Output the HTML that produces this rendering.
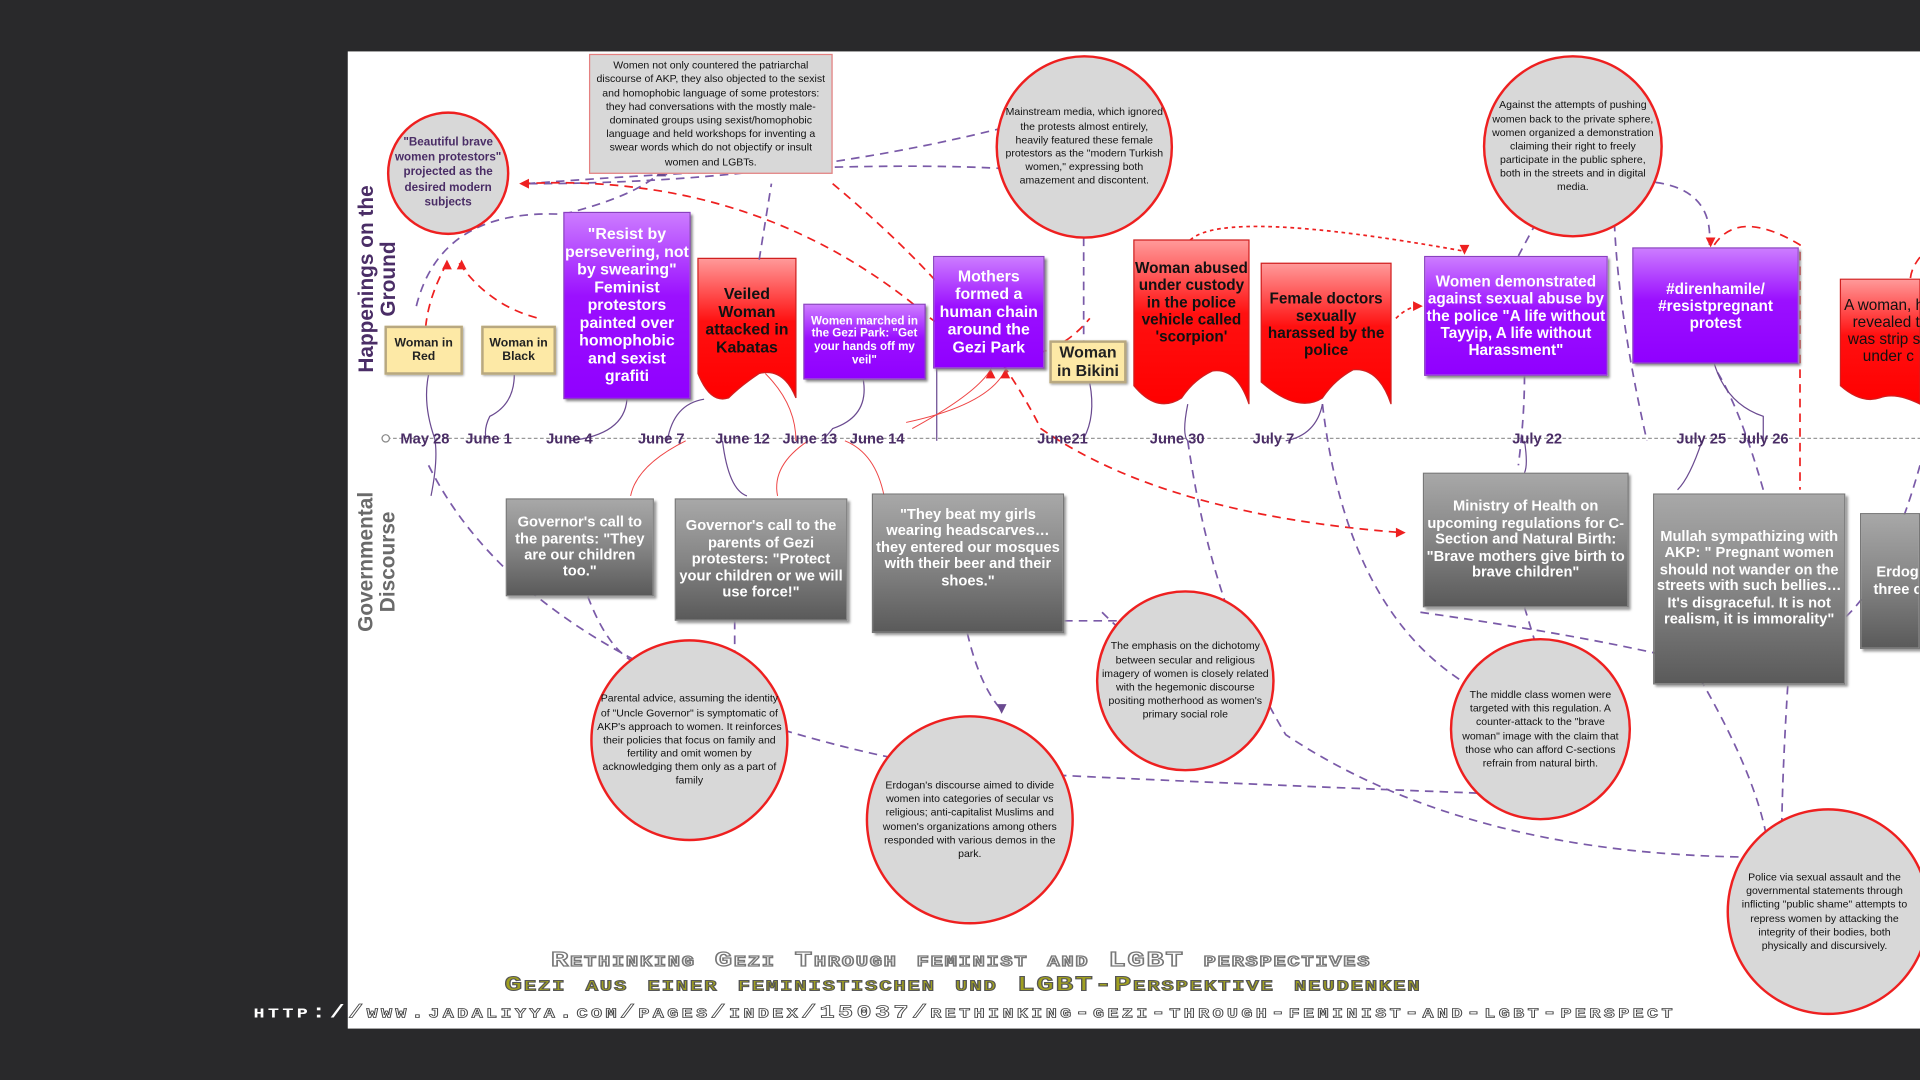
<!DOCTYPE html>
<html><head><meta charset="utf-8"><style>
html,body{margin:0;padding:0;width:1920px;height:1080px;overflow:hidden;background:#29292b}
#s{position:absolute;left:0;top:0;width:1568px;height:882px;transform:scale(1.22449);transform-origin:0 0;font-family:"Liberation Sans",sans-serif}
#panel{position:absolute;left:284px;top:42px;width:1284px;height:798px;background:#fff}
.a{position:absolute;display:flex;align-items:center;justify-content:center;text-align:center;box-sizing:border-box;font-weight:bold;line-height:1.12}
.y{background:#fde9a6;border:2px solid #b8a880;color:#222;font-size:10px;box-shadow:1px 1px 2px #999}
.p{background:linear-gradient(#cc7cff,#9b10ff 45%,#9000ff);color:#fff;font-size:12.5px;box-shadow:2px 2px 2px #888;border:1px solid #8a40c0}
.g{background:linear-gradient(#a8a8a8,#858585 50%,#5a5a5a);color:#fff;font-size:12px;box-shadow:2px 2px 2px #999;border:1px solid #777}
.r{color:#111;font-size:12.5px;align-items:flex-start;padding-top:6px}
.c{position:absolute;border:2px solid #ee2020;border-radius:50%;background:#d8d8d8;display:flex;align-items:center;justify-content:center;text-align:center;box-sizing:border-box;font-size:8.6px;line-height:1.3;color:#111}
.d{position:absolute;font-weight:bold;font-size:12px;color:#4a2d66;white-space:nowrap}
.t{position:absolute;font-family:"Liberation Mono",monospace;font-weight:bold;font-variant:small-caps;white-space:nowrap;letter-spacing:1px;transform-origin:0 0}
</style></head><body><div id="s">
<div id="panel"></div>
<svg width="1568" height="882" style="position:absolute;left:0;top:0">
<defs>
<linearGradient id="rg" x1="0" y1="0" x2="0" y2="1"><stop offset="0" stop-color="#ff9a9a"/><stop offset=".45" stop-color="#ff1010"/><stop offset="1" stop-color="#ff0000"/></linearGradient>
</defs>
<line x1="316" y1="358" x2="1568" y2="358" stroke="#999" stroke-dasharray="3,2" stroke-width="1"/>
<circle cx="315" cy="358" r="3" fill="#fff" stroke="#888"/>
<g fill="url(#rg)" stroke="#d02020" stroke-width="1">
<path d="M570 211H650V325Q640 300 620 305Q605 315 595 325Q580 330 570 305Z"/>
<path d="M926 196H1020V330Q1010 300 990 303Q975 310 965 325Q945 338 926 315Z"/>
<path d="M1030 215H1136V330Q1126 300 1105 302Q1090 310 1080 325Q1060 338 1030 312Z"/>
<path d="M1503 228H1568V330Q1548 320 1535 325Q1520 330 1503 315Z"/>
</g>
<g fill="none" stroke-width="1.4" stroke-dasharray="7,5">
<path d="M432 150Q640 150 825 103" stroke="#7a5aa8"/>
<path d="M430 150Q700 130 825 138" stroke="#7a5aa8"/>
<path d="M426 150Q620 140 760 260Q840 320 890 260" stroke="#ee2020"/>
<path d="M680 150Q800 250 850 350Q950 420 1145 435" stroke="#ee2020"/>
<path d="M365 215Q340 260 350 300" stroke="#ee2020"/>
<path d="M375 215Q400 250 440 260" stroke="#ee2020"/>
<path d="M340 250Q360 170 460 175Q520 160 540 140" stroke="#7a5aa8"/>
<path d="M620 212L630 150" stroke="#7a5aa8"/>
<path d="M885 170V280" stroke="#7a5aa8"/>
<path d="M972 196Q1000 170 1195 205" stroke="#ee2020" stroke-dasharray="3,3"/>
<path d="M1240 209Q1250 190 1265 163" stroke="#7a5aa8"/>
<path d="M1318 170Q1320 250 1345 360" stroke="#7a5aa8"/>
<path d="M1340 148Q1400 150 1396 200" stroke="#7a5aa8"/>
<path d="M1400 200Q1420 170 1470 200V400" stroke="#ee2020"/>
<path d="M1568 210Q1560 220 1560 230" stroke="#ee2020"/>
<path d="M1140 260Q1150 250 1160 250" stroke="#ee2020" stroke-dasharray="3,3"/>
<path d="M350 380Q400 480 530 545" stroke="#7a5aa8"/>
<path d="M480 487Q500 540 530 545" stroke="#7a5aa8"/>
<path d="M600 507V550" stroke="#7a5aa8"/>
<path d="M790 517Q800 560 818 580" stroke="#7a5aa8"/>
<path d="M869 507H945" stroke="#7a5aa8"/>
<path d="M900 500Q920 520 925 520" stroke="#7a5aa8"/>
<path d="M560 570Q700 620 800 630Q1000 640 1215 648" stroke="#7a5aa8"/>
<path d="M970 360Q990 500 1050 600Q1200 700 1440 700" stroke="#7a5aa8"/>
<path d="M1080 330Q1100 500 1200 560" stroke="#7a5aa8"/>
<path d="M1245 496L1260 545" stroke="#7a5aa8"/>
<path d="M1160 500Q1300 520 1380 540Q1440 640 1445 700" stroke="#7a5aa8"/>
<path d="M1460 560Q1455 640 1455 690" stroke="#7a5aa8"/>
<path d="M1568 380Q1540 480 1500 510" stroke="#7a5aa8"/>
<path d="M1245 307Q1245 340 1240 380" stroke="#7a5aa8"/>
<path d="M1440 400Q1420 330 1400 300" stroke="#7a5aa8"/>
</g>
<g fill="none" stroke="#6a4a90" stroke-width="1">
<path d="M350 306Q345 330 355 358Q358 375 352 405"/>
<path d="M420 306Q420 330 400 340Q395 350 397 358"/>
<path d="M512 326Q510 355 465 360"/>
<path d="M575 326Q550 330 545 360"/>
<path d="M590 360Q595 400 610 405"/>
<path d="M705 310Q710 340 680 350Q672 360 670 360"/>
<path d="M765 301V360"/>
<path d="M890 313Q895 340 885 358"/>
<path d="M970 330Q965 355 970 360"/>
<path d="M1080 330Q1075 355 1050 360"/>
<path d="M1245 360Q1248 380 1245 386"/>
<path d="M1400 297Q1410 330 1440 340V360"/>
<path d="M1390 360Q1380 390 1370 400"/>
</g>
<g fill="none" stroke="#ee4444" stroke-width="0.8">
<path d="M625 305Q650 330 650 360"/>
<path d="M745 350Q800 320 810 300"/>
<path d="M740 345Q810 330 822 300"/>
<path d="M560 360Q520 380 515 405"/>
<path d="M660 360Q630 380 635 405"/>
<path d="M690 360Q715 370 722 405"/>
</g>
<g fill="#6a4a90">
<path d="M530 545l-4-8h8z"/><path d="M598 555l-4-8h8z"/><path d="M818 583l-4-8h8z"/><path d="M1260 546l-4-8h8z"/><path d="M1445 704l-4-8h8z"/><path d="M1456 694l-4-8h8z"/>
<path d="M825 103l-8-4v8z"/><path d="M827 138l-8-4v8z"/><path d="M948 507l-8-4v8z"/><path d="M1218 648l-8-4v8z"/>
<path d="M883 168l-4 8h8z"/><path d="M1264 160l-4 8h8z"/><path d="M1317 168l-4 8h8z"/><path d="M540 136l-4 8h8z"/><path d="M1336 148l8-4v8z"/>
</g>
<g fill="#ee2020">
<path d="M424 150l8-4v8z"/><path d="M365 212l-4 8h8z"/><path d="M377 212l-4 8h8z"/><path d="M1148 435l-8-4v8z"/><path d="M1196 208l-4-8h8z"/><path d="M1397 202l-4-8h8z"/><path d="M1162 250l-8-4v8z"/><path d="M809 301l-4 8h8z"/><path d="M821 301l-4 8h8z"/><path d="M660 272l8-4v8z"/>
</g>
</svg>

<div class="c" style="left:316px;top:91px;width:100px;height:101px;font-weight:bold;font-size:9.5px;color:#4a2d66">"Beautiful brave women protestors" projected as the desired modern subjects</div>
<div class="a" style="left:481px;top:44px;width:199px;height:98px;background:#d8d8d8;border:1px solid #e58080;font-weight:normal;font-size:8.6px;color:#111;padding:2px 4px;line-height:1.3">Women not only countered the patriarchal discourse of AKP, they also objected to the sexist and homophobic language of some protestors: they had conversations with the mostly male-dominated groups using sexist/homophobic language and held workshops for inventing a swear words which do not objectify or insult women and LGBTs.</div>
<div class="c" style="left:813px;top:45px;width:145px;height:150px;padding:0 4px">Mainstream media, which ignored the protests almost entirely, heavily featured these female protestors as the "modern Turkish women," expressing both amazement and discontent.</div>
<div class="c" style="left:1211px;top:45px;width:147px;height:149px;padding:0 3px">Against the attempts of pushing women back to the private sphere, women organized a demonstration claiming their right to freely participate in the public sphere, both in the streets and in digital media.</div>

<div class="a" style="left:288px;top:140px;width:40px;height:176px"><div style="transform:rotate(-90deg);white-space:nowrap;font-size:17px;color:#4a2d66;line-height:1.05">Happenings on the<br>Ground</div></div>
<div class="a" style="left:288px;top:395px;width:40px;height:128px"><div style="transform:rotate(-90deg);white-space:nowrap;font-size:17px;color:#6a6a6a;line-height:1.05">Governmental<br>Discourse</div></div>

<div class="a y" style="left:314px;top:266px;width:64px;height:40px">Woman in Red</div>
<div class="a y" style="left:393px;top:266px;width:61px;height:40px">Woman in Black</div>
<div class="a p" style="left:460px;top:173px;width:104px;height:153px;font-size:13px">"Resist by persevering, not by swearing" Feminist protestors painted over homophobic and sexist grafiti</div>
<div class="a r" style="left:570px;top:211px;width:80px;height:90px;padding-top:22px;font-size:13px">Veiled Woman attacked in Kabatas</div>
<div class="a p" style="left:656px;top:248px;width:100px;height:62px;font-size:9.5px">Women marched in the Gezi Park: "Get your hands off my veil"</div>
<div class="a p" style="left:762px;top:209px;width:91px;height:92px;font-size:13px">Mothers formed a human chain around the Gezi Park</div>
<div class="a y" style="left:857px;top:278px;width:63px;height:35px;font-size:13px">Woman in Bikini</div>
<div class="a r" style="left:926px;top:196px;width:94px;height:110px;padding-top:16px">Woman abused under custody in the police vehicle called 'scorpion'</div>
<div class="a r" style="left:1030px;top:215px;width:106px;height:100px;padding-top:22px">Female doctors sexually harassed by the police</div>
<div class="a p" style="left:1163px;top:209px;width:150px;height:98px">Women demonstrated against sexual abuse by the police "A life without Tayyip, A life without Harassment"</div>
<div class="a p" style="left:1333px;top:202px;width:136px;height:95px;align-items:flex-start;padding-top:26px">#direnhamile/ #resistpregnant protest</div>
<div class="a r" style="left:1503px;top:228px;width:65px;height:80px;padding-top:14px;justify-content:flex-start;font-weight:normal;white-space:nowrap;overflow:hidden;padding-left:3px">A woman, h<br>&nbsp;revealed t<br>was strip s<br>&nbsp;&nbsp;under c</div>

<div class="d" style="left:327px;top:351px">May 28</div>
<div class="d" style="left:380px;top:351px">June 1</div>
<div class="d" style="left:446px;top:351px">June 4</div>
<div class="d" style="left:521px;top:351px">June 7</div>
<div class="d" style="left:584px;top:351px">June 12</div>
<div class="d" style="left:639px;top:351px">June 13</div>
<div class="d" style="left:694px;top:351px">June 14</div>
<div class="d" style="left:847px;top:351px">June21</div>
<div class="d" style="left:939px;top:351px">June 30</div>
<div class="d" style="left:1023px;top:351px">July 7</div>
<div class="d" style="left:1235px;top:351px">July 22</div>
<div class="d" style="left:1369px;top:351px">July 25</div>
<div class="d" style="left:1420px;top:351px">July 26</div>

<div class="a g" style="left:413px;top:407px;width:121px;height:80px">Governor's call to the parents: "They are our children too."</div>
<div class="a g" style="left:551px;top:407px;width:141px;height:100px">Governor's call to the parents of Gezi protesters: "Protect your children or we will use force!"</div>
<div class="a g" style="left:712px;top:403px;width:157px;height:114px;align-items:flex-start;padding-top:10px">"They beat my girls wearing headscarves…they entered our mosques with their beer and their shoes."</div>
<div class="a g" style="left:1162px;top:386px;width:168px;height:110px">Ministry of Health on upcoming regulations for C-Section and Natural Birth: "Brave mothers give birth to brave children"</div>
<div class="a g" style="left:1350px;top:403px;width:157px;height:156px;align-items:flex-start;padding-top:28px">Mullah sympathizing with AKP: " Pregnant women should not wander on the streets with such bellies… It's disgraceful. It is not realism, it is immorality"</div>
<div class="a g" style="left:1519px;top:419px;width:49px;height:111px;justify-content:flex-start;padding-left:10px;white-space:nowrap;overflow:hidden">Erdog<br>three c</div>

<div class="c" style="left:482px;top:522px;width:162px;height:165px;padding:0 3px">Parental advice, assuming the identity of "Uncle Governor" is symptomatic of AKP's approach to women. It reinforces their policies that focus on family and fertility and omit women by acknowledging them only as a part of family</div>
<div class="c" style="left:707px;top:584px;width:170px;height:171px;padding:0 3px">Erdogan's discourse aimed to divide women into categories of secular vs religious; anti-capitalist Muslims and women's organizations among others responded with various demos in the park.</div>
<div class="c" style="left:895px;top:482px;width:146px;height:148px;padding:0 2px">The emphasis on the dichotomy between secular and religious imagery of women is closely related with the hegemonic discourse positing motherhood as women's primary social role</div>
<div class="c" style="left:1184px;top:521px;width:148px;height:149px;padding:0 3px">The middle class women were targeted with this regulation. A counter-attack to the "brave woman" image with the claim that those who can afford C-sections refrain from natural birth.</div>
<div class="c" style="left:1410px;top:660px;width:166px;height:169px;padding:0 12px 0 6px;justify-content:flex-start">Police via sexual assault and the governmental statements through inflicting "public shame" attempts to repress women by attacking the integrity of their bodies, both physically and discursively.</div>

<div class="t" style="left:450px;top:776px;font-size:17px;color:#fff;-webkit-text-stroke:1px #777;transform:scaleX(1.39)">Rethinking Gezi Through feminist and LGBT perspectives</div>
<div class="t" style="left:412px;top:796px;font-size:17px;color:#a0a020;-webkit-text-stroke:0.8px #555;transform:scaleX(1.41)">Gezi aus einer feministischen und LGBT-Perspektive neudenken</div>
<div class="t" style="left:207px;top:819px;font-size:15px;color:#fff;letter-spacing:2px;transform:scaleX(1.37)">http:/<span style="color:#fff;-webkit-text-stroke:0.6px #444">/www.jadaliyya.com/pages/index/15037/rethinking-gezi-through-feminist-and-lgbt-perspect</span></div>
</div></body></html>
